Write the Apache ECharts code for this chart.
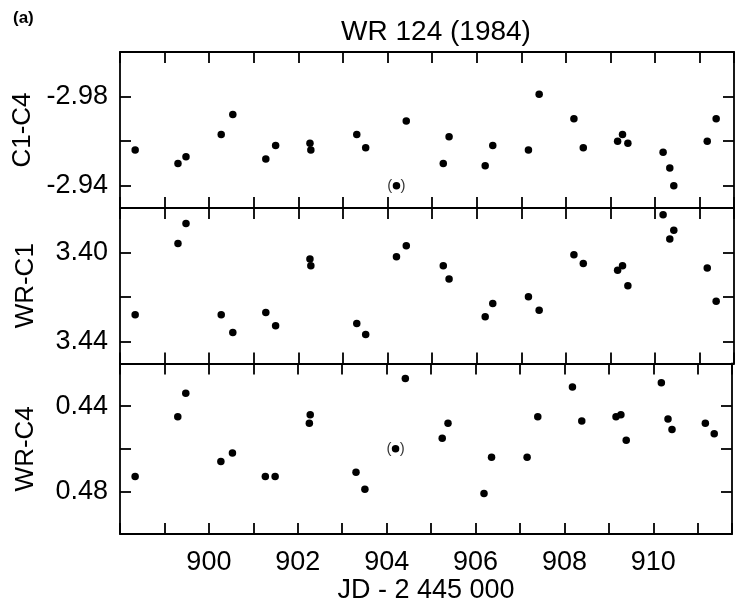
<!DOCTYPE html>
<html>
<head>
<meta charset="utf-8">
<script src="https://cdn.jsdelivr.net/npm/echarts@6/dist/echarts.min.js"></script>
<style>
  html, body { margin: 0; padding: 0; background: #fff; }
  #chart { width: 735px; height: 605px; }
</style>
</head>
<body>
<div id="chart"></div>
<script>
// Observation times (JD - 2 445 000)
const days = [898.34, 899.30, 899.48, 900.27, 900.53, 901.27, 901.49, 902.26, 902.28,
              903.31, 903.51, 904.20, 904.42, 905.25, 905.38, 906.19, 906.36, 907.16,
              907.40, 908.18, 908.39, 909.16, 909.27, 909.39, 910.18, 910.33, 910.42,
              911.17, 911.37];
// C1-C4 differential magnitudes
const c1c4 = [-2.956, -2.950, -2.953, -2.963, -2.972, -2.952, -2.958, -2.959, -2.956,
              -2.963, -2.957, -2.940, -2.969, -2.950, -2.962, -2.949, -2.958, -2.956,
              -2.981, -2.970, -2.957, -2.960, -2.963, -2.959, -2.955, -2.948, -2.940,
              -2.960, -2.970];
// WR-C1
const wrc1 = [3.428, 3.396, 3.387, 3.428, 3.436, 3.427, 3.433, 3.403, 3.406,
              3.432, 3.437, 3.402, 3.397, 3.406, 3.412, 3.429, 3.423, 3.420,
              3.426, 3.401, 3.405, 3.408, 3.406, 3.415, 3.383, 3.394, 3.390,
              3.407, 3.422];
// WR-C4
const wrc4 = [0.473, 0.445, 0.434, 0.466, 0.462, 0.473, 0.473, 0.448, 0.444,
              0.471, 0.479, 0.460, 0.427, 0.455, 0.448, 0.481, 0.464, 0.464,
              0.445, 0.431, 0.447, 0.445, 0.444, 0.456, 0.429, 0.446, 0.451,
              0.448, 0.453];
// indices of uncertain (bracketed) points per panel
const bracketedC1C4 = [11];
const bracketedWRC1 = [];
const bracketedWRC4 = [11];

const xTickLabels = [900, 902, 904, 906, 908, 910];
const panelNames = ['C1-C4', 'WR-C1', 'WR-C4'];
const yRanges = [[-3.00, -2.93], [3.38, 3.45], [0.42, 0.50]];
const yTickLabels = [[-2.98, -2.94], [3.40, 3.44], [0.44, 0.48]];
const title = 'WR 124 (1984)';
const xName = 'JD - 2 445 000';

const FONT = 'Liberation Sans, Arial, Helvetica, sans-serif';
const panels = [
  { vals: c1c4, br: bracketedC1C4, top: 52, h: 156 },
  { vals: wrc1, br: bracketedWRC1, top: 208, h: 155.5 },
  { vals: wrc4, br: bracketedWRC4, top: 363.5, h: 178.5 }
];
const LEFT = 120, WIDTH = 614;
const lineStyle = { color: '#000', width: 1.8 };

const grids = [], xAxes = [], yAxes = [], series = [];
panels.forEach((p, i) => {
  grids.push({ left: LEFT, top: p.top, width: WIDTH, height: p.h });
  const isBottom = i === panels.length - 1;
  const xBase = {
    gridIndex: i, type: 'value', min: 898, max: 911.77, interval: 1,
    axisLine: { show: true, onZero: false, lineStyle },
    axisTick: { show: true, inside: true, length: 11, lineStyle },
    splitLine: { show: false }
  };
  xAxes.push(Object.assign({}, xBase, {
    position: 'bottom',
    axisLabel: {
      show: isBottom, margin: 15, color: '#000', fontFamily: FONT, fontSize: 27,
      formatter: v => xTickLabels.some(t => Math.abs(t - v) < 1e-6) ? String(Math.round(v)) : ''
    },
    name: isBottom ? xName : '', nameLocation: 'middle', nameGap: 34,
    nameTextStyle: { color: '#000', fontFamily: FONT, fontSize: 27 }
  }));
  xAxes.push(Object.assign({}, xBase, { position: 'top', axisLabel: { show: false } }));
  const yBase = {
    gridIndex: i, type: 'value', inverse: true,
    min: yRanges[i][0], max: yRanges[i][1], interval: 0.02,
    axisLine: { show: true, onZero: false, lineStyle },
    axisTick: { show: true, inside: true, length: 11, lineStyle },
    splitLine: { show: false }
  };
  yAxes.push(Object.assign({}, yBase, {
    position: 'left',
    axisLabel: {
      show: true, margin: 12, color: '#000', fontFamily: FONT, fontSize: 27,
      formatter: v => yTickLabels[i].some(t => Math.abs(t - v) < 1e-6) ? v.toFixed(2) : ''
    },
    name: panelNames[i], nameLocation: 'middle', nameRotate: 90, nameGap: 81,
    nameTextStyle: { color: '#000', fontFamily: FONT, fontSize: 26 }
  }));
  yAxes.push(Object.assign({}, yBase, { position: 'right', axisLabel: { show: false } }));

  series.push({
    type: 'scatter', xAxisIndex: 2 * i, yAxisIndex: 2 * i,
    symbol: 'circle', symbolSize: 7.5,
    itemStyle: { color: '#000', opacity: 1 },
    data: days.map((d, k) => [d, p.vals[k]]),
    animation: false
  });
  if (p.br.length) {
    series.push({
      type: 'scatter', xAxisIndex: 2 * i, yAxisIndex: 2 * i,
      symbolSize: 1, itemStyle: { color: 'rgba(0,0,0,0)' },
      label: {
        show: true, position: 'inside', formatter: '(  )',
        color: '#000', fontFamily: FONT, fontSize: 15
      },
      data: p.br.map(k => [days[k], p.vals[k]]),
      animation: false
    });
  }
});

const chart = echarts.init(document.getElementById('chart'), null, { renderer: 'canvas' });
chart.setOption({
  backgroundColor: '#fff',
  animation: false,
  title: [
    { text: title, left: 431, top: 13, textAlign: 'center',
      textStyle: { color: '#000', fontFamily: FONT, fontSize: 28, fontWeight: 'normal' } },
    { text: '(a)', left: 8, top: 5,
      textStyle: { color: '#000', fontFamily: FONT, fontSize: 17, fontWeight: 'bold' } }
  ],
  grid: grids,
  xAxis: xAxes,
  yAxis: yAxes,
  series: series
});
</script>
</body>
</html>
